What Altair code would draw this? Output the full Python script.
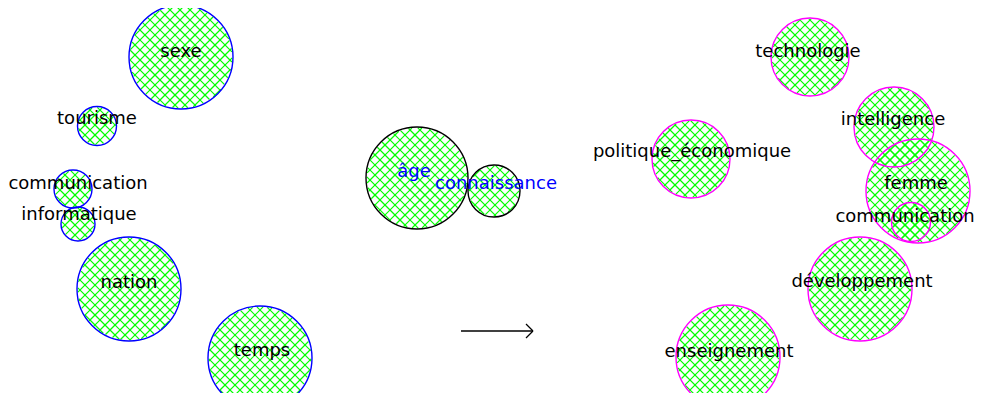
import altair as alt
import pandas as pd
import numpy as np

# ---- data (image-pixel units) ----
words = ["sexe", "tourisme", "communication", "informatique", "nation", "temps",
         "âge", "connaissance",
         "technologie", "politique_économique", "intelligence", "femme",
         "communication ", "développement", "enseignement"]
center_x = [181, 97, 73, 78, 129, 260, 417, 494, 810, 691, 894, 918, 911, 860, 728]
center_y = [57, 126, 189, 224, 289, 358, 178, 191, 57, 159, 127, 191, 222, 289, 357]
radius = [52, 19.5, 19, 17, 52, 52, 51, 26, 39, 39, 40, 52, 19.5, 52, 52]
group = ["gauche"] * 6 + ["milieu"] * 2 + ["droite"] * 7
label_x = [181, 97, 78, 79, 129, 262, 414, 496, 808, 692, 893, 916, 905, 862, 729]
label_y = [52, 119, 184, 215, 283, 351, 172, 184, 52, 152, 120, 184, 217, 282, 352]
label_color = ["#000000"] * 6 + ["#0000ff"] * 2 + ["#000000"] * 7

group_names = ["gauche", "milieu", "droite"]
group_colors = ["#0000ff", "#000000", "#ff00ff"]

arrow_x = [461, 526, 526]
arrow_y = [331, 324, 338]
arrow_x2 = [533, 533, 533]
arrow_y2 = [331, 331, 331]

W, H = 967, 385
OFF = 8
hatch_period = 10.0

circles = pd.DataFrame({
    "mot": words, "cx": center_x, "cy": center_y, "r": radius, "groupe": group,
    "lx": label_x, "ly": label_y, "couleur": label_color,
})
circles["taille"] = (2 * circles["r"]) ** 2

# cross-hatch segments derived from each circle's geometry
segs = []
for _, row in circles.iterrows():
    for s in (1, -1):
        n = np.array([1.0, s]) / np.sqrt(2)
        t = np.array([s, -1.0]) / np.sqrt(2)
        u0 = row.cx + s * row.cy
        kmin = int(np.floor((u0 - row.r * np.sqrt(2)) / hatch_period)) - 1
        kmax = int(np.ceil((u0 + row.r * np.sqrt(2)) / hatch_period)) + 1
        for k in range(kmin, kmax + 1):
            c = k * hatch_period
            d = (u0 - c) / np.sqrt(2)
            if abs(d) < row.r - 0.8:
                h = np.sqrt((row.r - 0.8) ** 2 - d ** 2)
                fx, fy = row.cx - d * n[0], row.cy - d * n[1]
                segs.append({"x": fx - h * t[0], "y": fy - h * t[1],
                             "x2": fx + h * t[0], "y2": fy + h * t[1]})
hatch = pd.DataFrame(segs)

arrow = pd.DataFrame({"x": arrow_x, "y": arrow_y, "x2": arrow_x2, "y2": arrow_y2})

xs = alt.Scale(domain=[OFF, OFF + W], range=[0, W])
ys = alt.Scale(domain=[OFF, OFF + H], range=[0, H])
noaxis = None

hatch_layer = alt.Chart(hatch).mark_rule(color="#00ff00", strokeWidth=1.2).encode(
    x=alt.X("x:Q", scale=xs, axis=noaxis),
    y=alt.Y("y:Q", scale=ys, axis=noaxis),
    x2="x2:Q", y2="y2:Q",
)

outline_layer = alt.Chart(circles).mark_point(filled=False, shape="circle", strokeWidth=1.4, opacity=1).encode(
    x=alt.X("cx:Q", scale=xs, axis=noaxis),
    y=alt.Y("cy:Q", scale=ys, axis=noaxis),
    size=alt.Size("taille:Q", scale=None, legend=None),
    color=alt.Color("groupe:N", scale=alt.Scale(domain=group_names, range=group_colors), legend=None),
)

text_layer = alt.Chart(circles).mark_text(font="DejaVu Sans", fontSize=18, baseline="middle", align="center").encode(
    x=alt.X("lx:Q", scale=xs, axis=noaxis),
    y=alt.Y("ly:Q", scale=ys, axis=noaxis),
    text="mot:N",
    color=alt.Color("couleur:N", scale=None, legend=None),
)

arrow_layer = alt.Chart(arrow).mark_rule(color="#000000", strokeWidth=1.3).encode(
    x=alt.X("x:Q", scale=xs, axis=noaxis),
    y=alt.Y("y:Q", scale=ys, axis=noaxis),
    x2="x2:Q", y2="y2:Q",
)

chart = alt.layer(hatch_layer, outline_layer, arrow_layer, text_layer).resolve_scale(
    color="independent"
).properties(
    width=W, height=H, padding=0, autosize=alt.AutoSizeParams(type="none"),
    background="white",
).configure_view(stroke=None)

chart.save("out.html", embed_options={"renderer": "svg", "actions": False})
